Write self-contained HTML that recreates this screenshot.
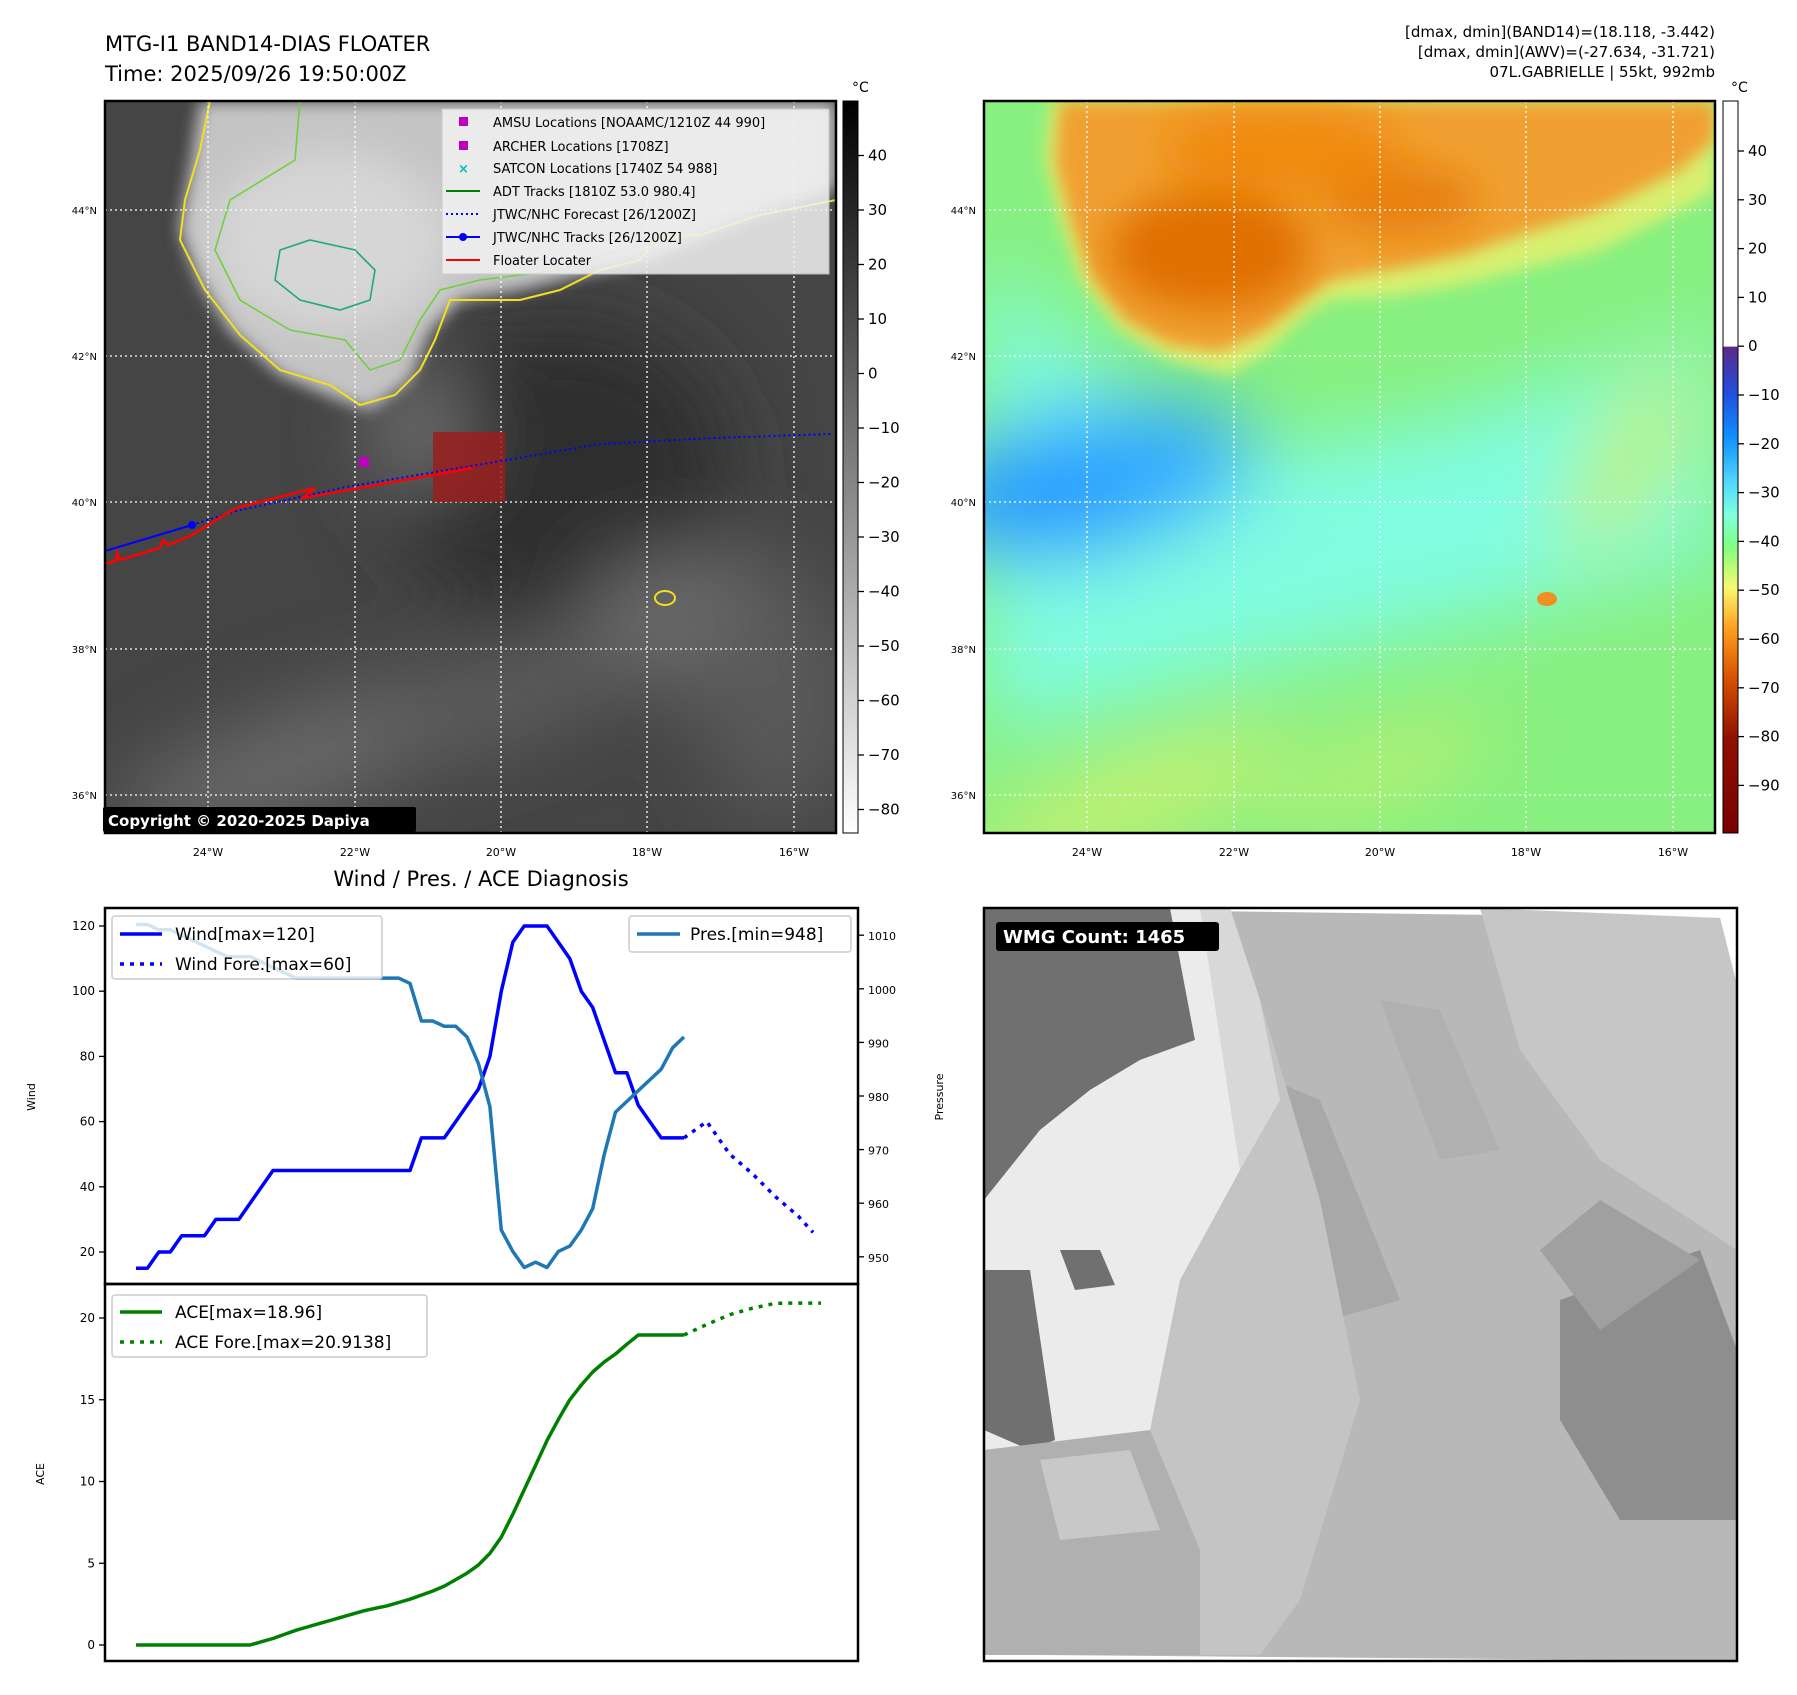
<!DOCTYPE html>
<html><head><meta charset="utf-8">
<style>
html,body{margin:0;padding:0;background:#fff;}
svg text{font-family:"DejaVu Sans","Liberation Sans",sans-serif;}
</style></head>
<body>
<svg id="fig" xmlns="http://www.w3.org/2000/svg" width="1797" height="1690" viewBox="0 0 1797 1690">
<defs>
  <filter id="blur8" x="-20%" y="-20%" width="140%" height="140%"><feGaussianBlur stdDeviation="8"/></filter>
  <filter id="blur20" x="-30%" y="-30%" width="160%" height="160%"><feGaussianBlur stdDeviation="20"/></filter>
  <filter id="blur40" x="-50%" y="-50%" width="200%" height="200%"><feGaussianBlur stdDeviation="40"/></filter>
  <clipPath id="clipL"><rect x="105" y="101" width="731" height="732"/></clipPath>
  <clipPath id="clipR"><rect x="984" y="101" width="731" height="732"/></clipPath>
  <clipPath id="clipB"><rect x="984" y="908" width="753" height="753"/></clipPath>
  <linearGradient id="cb1" x1="0" y1="0" x2="0" y2="1">
    <stop offset="0" stop-color="#000"/><stop offset="1" stop-color="#fff"/>
  </linearGradient>
  <linearGradient id="cb2" x1="0" y1="0" x2="0" y2="1">
    <stop offset="0" stop-color="#fff"/><stop offset="0.335" stop-color="#fff"/>
    <stop offset="0.336" stop-color="#5a2a8a"/><stop offset="0.40" stop-color="#2050e0"/>
    <stop offset="0.46" stop-color="#1090ff"/><stop offset="0.52" stop-color="#50d8ff"/>
    <stop offset="0.565" stop-color="#80ffe0"/><stop offset="0.61" stop-color="#80ff80"/>
    <stop offset="0.665" stop-color="#f8f870"/><stop offset="0.72" stop-color="#ffa020"/>
    <stop offset="0.79" stop-color="#d85000"/><stop offset="0.87" stop-color="#901000"/>
    <stop offset="1" stop-color="#7a0000"/>
  </linearGradient>
</defs>

<text x="105" y="51" font-size="21">MTG-I1 BAND14-DIAS FLOATER</text>
<text x="105" y="81" font-size="21">Time: 2025/09/26 19:50:00Z</text>
<g font-size="15" text-anchor="end">
  <text x="1715" y="37">[dmax, dmin](BAND14)=(18.118, -3.442)</text>
  <text x="1715" y="57">[dmax, dmin](AWV)=(-27.634, -31.721)</text>
  <text x="1715" y="77">07L.GABRIELLE | 55kt, 992mb</text>
</g>

<!-- LEFT MAP -->
<g clip-path="url(#clipL)">
  <rect x="105" y="101" width="731" height="732" fill="#454545"/>
  <g filter="url(#blur40)">
    <ellipse cx="560" cy="470" rx="170" ry="150" fill="#2e2e2e"/>
    <ellipse cx="700" cy="620" rx="120" ry="70" fill="#6a6a6a"/>
    <ellipse cx="300" cy="760" rx="200" ry="50" fill="#6a6a6a" transform="rotate(-20 300 760)"/>
    <ellipse cx="500" cy="700" rx="140" ry="40" fill="#606060" transform="rotate(-20 500 700)"/>
    <ellipse cx="780" cy="700" rx="80" ry="120" fill="#5a5a5a"/>
    <ellipse cx="420" cy="430" rx="50" ry="60" fill="#707070"/>
  </g>
  <path filter="url(#blur8)" d="M200,101 L190,170 L180,230 L200,280 L230,330 L280,375 L340,400 L370,410 L410,380 L430,330 L460,300 L520,290 L600,270 L650,260 L700,240 L760,215 L836,190 L836,101 Z" fill="#c4c4c4"/>
  <ellipse cx="330" cy="240" rx="120" ry="90" fill="#d6d6d6" filter="url(#blur20)"/>
  <path d="M210,101 L200,150 L185,200 L180,240 L205,290 L240,335 L280,370 L330,385 L360,405 L395,395 L420,370 L435,340 L450,300 L480,300 L520,300 L560,290 L600,270 L640,260 L660,235 L700,235 L760,215 L836,200" fill="none" stroke="#f0e020" stroke-width="2"/>
  <path d="M300,101 L295,160 L230,200 L215,250 L240,300 L290,330 L345,340 L370,370 L400,360 L420,320 L440,290 L480,280 L560,270 L620,250" fill="none" stroke="#70d040" stroke-width="1.6"/>
  <path d="M280,250 L310,240 L355,250 L375,270 L370,300 L340,310 L300,300 L275,280 Z" fill="none" stroke="#20a880" stroke-width="1.6"/>
  <ellipse cx="665" cy="598" rx="10" ry="7" fill="none" stroke="#f0e020" stroke-width="2"/>
  <g stroke="#fff" stroke-width="1.3" stroke-dasharray="2,3">
    <line x1="208" y1="101" x2="208" y2="833"/><line x1="355" y1="101" x2="355" y2="833"/>
    <line x1="501" y1="101" x2="501" y2="833"/><line x1="647" y1="101" x2="647" y2="833"/>
    <line x1="794" y1="101" x2="794" y2="833"/>
    <line x1="105" y1="210" x2="836" y2="210"/><line x1="105" y1="356" x2="836" y2="356"/>
    <line x1="105" y1="502" x2="836" y2="502"/><line x1="105" y1="649" x2="836" y2="649"/>
    <line x1="105" y1="795" x2="836" y2="795"/>
  </g>
  <rect x="433" y="432" width="72" height="70" fill="#9a1f1f" opacity="0.85"/>
  <polyline points="192,525 236,511 346,487 507,460 600,444 714,438 832,434" fill="none" stroke="#0000ff" stroke-width="2" stroke-dasharray="2,3"/>
  <polyline points="105,551 192,525" fill="none" stroke="#0000ff" stroke-width="2"/>
  <circle cx="192" cy="525" r="4" fill="#0000ff"/>
  <polyline points="105,564 116,561 117,553 120,560 160,548 163,540 168,545 190,536 236,508 315,488 303,498 472,468" fill="none" stroke="#ff0000" stroke-width="2.5"/>
  <rect x="359" y="457" width="10" height="10" fill="#c000c0"/>
</g>
<rect x="105" y="101" width="731" height="732" fill="none" stroke="#000" stroke-width="2.5"/>

<g font-size="13">
  <rect x="442" y="109" width="387" height="165" fill="#f2f2f2" opacity="0.85" stroke="#ccc"/>
  <rect x="459" y="117" width="9" height="9" fill="#c000c0"/>
  <text x="493" y="127">AMSU Locations [NOAAMC/1210Z 44 990]</text>
  <rect x="459" y="141" width="9" height="9" fill="#c000c0"/>
  <text x="493" y="151">ARCHER Locations [1708Z]</text>
  <text x="458" y="173" fill="#00c0c0" font-weight="bold" font-size="13">×</text>
  <text x="493" y="173">SATCON Locations [1740Z 54 988]</text>
  <line x1="446" y1="191" x2="480" y2="191" stroke="#008000" stroke-width="2"/>
  <text x="493" y="196">ADT Tracks [1810Z 53.0 980.4]</text>
  <line x1="446" y1="214" x2="480" y2="214" stroke="#0000ff" stroke-width="2" stroke-dasharray="2,3"/>
  <text x="493" y="219">JTWC/NHC Forecast [26/1200Z]</text>
  <line x1="446" y1="237" x2="480" y2="237" stroke="#0000ff" stroke-width="2"/><circle cx="463" cy="237" r="4" fill="#0000ff"/>
  <text x="493" y="242">JTWC/NHC Tracks [26/1200Z]</text>
  <line x1="446" y1="260" x2="480" y2="260" stroke="#ff0000" stroke-width="2"/>
  <text x="493" y="265">Floater Locater</text>
</g>
<g>
  <rect x="103" y="807" width="313" height="25" fill="#000" rx="2"/>
  <text x="108" y="826" fill="#fff" font-weight="bold" font-size="15">Copyright © 2020-2025 Dapiya</text>
</g>
<g font-size="10" text-anchor="end">
  <text x="97" y="214">44°N</text><text x="97" y="360">42°N</text><text x="97" y="506">40°N</text><text x="97" y="653">38°N</text><text x="97" y="799">36°N</text>
</g>
<g font-size="11" text-anchor="middle">
  <text x="208" y="856">24°W</text><text x="355" y="856">22°W</text><text x="501" y="856">20°W</text><text x="647" y="856">18°W</text><text x="794" y="856">16°W</text>
</g>
<g>
  <rect x="843" y="101" width="15" height="732" fill="url(#cb1)" stroke="#000" stroke-width="1"/>
  <text x="852" y="92" font-size="14">°C</text>
  <g font-size="15" id="cb1labels"></g>
</g>

<!-- RIGHT MAP -->
<g clip-path="url(#clipR)">
  <rect x="984" y="101" width="731" height="732" fill="#88f080"/>
  <g filter="url(#blur40)">
    <path d="M984,250 L1060,330 L1160,410 L1280,450 L1450,420 L1715,330 L1715,560 L1560,600 L1380,640 L1200,680 L1050,720 L984,730 Z" fill="#80fce0"/>
    <ellipse cx="1090" cy="480" rx="170" ry="75" fill="#30aaff" transform="rotate(-12 1090 480)"/>
    <ellipse cx="1040" cy="510" rx="90" ry="45" fill="#2098ff"/>
    <ellipse cx="1130" cy="800" rx="170" ry="35" fill="#d0f070" transform="rotate(-20 1130 800)"/>
    <ellipse cx="1380" cy="770" rx="120" ry="25" fill="#c8f070" transform="rotate(-20 1380 770)"/>
    <ellipse cx="1630" cy="460" rx="40" ry="110" fill="#c0f070" transform="rotate(30 1630 460)"/>
  </g>
  <path filter="url(#blur8)" d="M1050,101 L1045,160 L1060,220 L1080,280 L1120,330 L1170,360 L1230,375 L1270,350 L1300,320 L1330,300 L1400,295 L1460,285 L1520,270 L1600,250 L1680,210 L1715,190 L1715,101 Z" fill="#d8f070"/>
  <path filter="url(#blur8)" d="M1060,101 L1055,160 L1070,220 L1090,275 L1125,320 L1170,345 L1220,352 L1265,330 L1300,300 L1330,280 L1400,268 L1460,255 L1520,235 L1600,210 L1680,170 L1715,140 L1715,101 Z" fill="#f0a030"/>
  <g filter="url(#blur20)">
    <ellipse cx="1210" cy="250" rx="100" ry="60" fill="#e07000"/>
    <ellipse cx="1400" cy="200" rx="80" ry="35" fill="#e88010"/>
    <ellipse cx="1280" cy="150" rx="120" ry="40" fill="#f08a10"/>
  </g>
  <ellipse cx="1547" cy="599" rx="10" ry="7" fill="#f09020"/>
  <g stroke="#fff" stroke-width="1.3" stroke-dasharray="2,3">
    <line x1="1087" y1="101" x2="1087" y2="833"/><line x1="1234" y1="101" x2="1234" y2="833"/>
    <line x1="1380" y1="101" x2="1380" y2="833"/><line x1="1526" y1="101" x2="1526" y2="833"/>
    <line x1="1673" y1="101" x2="1673" y2="833"/>
    <line x1="984" y1="210" x2="1715" y2="210"/><line x1="984" y1="356" x2="1715" y2="356"/>
    <line x1="984" y1="502" x2="1715" y2="502"/><line x1="984" y1="649" x2="1715" y2="649"/>
    <line x1="984" y1="795" x2="1715" y2="795"/>
  </g>
</g>
<rect x="984" y="101" width="731" height="732" fill="none" stroke="#000" stroke-width="2.5"/>
<g font-size="10" text-anchor="end">
  <text x="976" y="214">44°N</text><text x="976" y="360">42°N</text><text x="976" y="506">40°N</text><text x="976" y="653">38°N</text><text x="976" y="799">36°N</text>
</g>
<g font-size="11" text-anchor="middle">
  <text x="1087" y="856">24°W</text><text x="1234" y="856">22°W</text><text x="1380" y="856">20°W</text><text x="1526" y="856">18°W</text><text x="1673" y="856">16°W</text>
</g>
<g>
  <rect x="1723" y="101" width="15" height="732" fill="url(#cb2)" stroke="#000" stroke-width="1"/>
  <text x="1731" y="92" font-size="14">°C</text>
  <g font-size="15" id="cb2labels"></g>
</g>

<!-- BOTTOM RIGHT -->
<g clip-path="url(#clipB)">
  <rect x="984" y="908" width="753" height="753" fill="#fff"/>
  <polygon points="984,908 1720,918 1737,985 1737,1661 1040,1655 984,1655" fill="#b8b8b8"/>
  <polygon points="1480,908 1720,918 1737,985 1737,1250 1600,1160 1520,1050" fill="#c6c6c6"/>
  <polygon points="1560,1300 1700,1250 1737,1350 1737,1520 1620,1520 1560,1420" fill="#8e8e8e"/>
  <polygon points="1540,1250 1600,1200 1700,1260 1600,1330" fill="#a0a0a0"/>
  <polygon points="1200,1050 1320,1100 1400,1300 1330,1320 1260,1200" fill="#a8a8a8"/>
  <polygon points="1380,1000 1440,1010 1500,1150 1440,1160" fill="#b0b0b0"/>
  <polygon points="1180,908 1230,908 1260,1000 1320,1200 1360,1400 1300,1600 1260,1655 1150,1655 1120,1500" fill="#c4c4c4"/>
  <polygon points="984,908 1170,908 1195,1040 1140,1060 1090,1090 1040,1130 984,1200" fill="#707070"/>
  <polygon points="1170,908 1200,908 1260,1100 1240,1170 1180,1280 1150,1430 1060,1460 984,1450 984,1200 1040,1130 1090,1090 1140,1060 1195,1040" fill="#ebebeb"/>
  <polygon points="1200,908 1230,908 1260,1000 1280,1100 1240,1170" fill="#d8d8d8"/>
  <polygon points="984,1270 1030,1270 1055,1440 1030,1450 984,1430" fill="#707070"/>
  <polygon points="1060,1250 1100,1250 1115,1285 1075,1290" fill="#707070"/>
  <polygon points="984,1450 1150,1430 1200,1550 1200,1655 984,1655" fill="#b0b0b0"/>
  <polygon points="1040,1460 1130,1450 1160,1530 1060,1540" fill="#c8c8c8"/>
</g>
<rect x="984" y="908" width="753" height="753" fill="none" stroke="#000" stroke-width="2.5"/>
<g>
  <rect x="996" y="922" width="223" height="29" rx="3" fill="#000"/>
  <text x="1003" y="943" fill="#fff" font-weight="bold" font-size="18">WMG Count: 1465</text>
</g>

<!-- BOTTOM LEFT CHART -->
<text x="481" y="886" font-size="21" text-anchor="middle">Wind / Pres. / ACE Diagnosis</text>
<g id="chart"></g>
<rect x="105" y="908" width="753" height="376" fill="none" stroke="#000" stroke-width="2.5"/>
<rect x="105" y="1284" width="753" height="377" fill="none" stroke="#000" stroke-width="2.5"/>
<text x="35" y="1097" font-size="11" text-anchor="middle" transform="rotate(-90 35 1097)">Wind</text>
<text x="943" y="1097" font-size="11" text-anchor="middle" transform="rotate(-90 943 1097)">Pressure</text>
<text x="44" y="1474" font-size="11" text-anchor="middle" transform="rotate(-90 44 1474)">ACE</text>

<g font-size="17">
  <rect x="112" y="916" width="270" height="63" rx="3" fill="#fff" fill-opacity="0.8" stroke="#ccc" stroke-width="1.5"/>
  <line x1="120" y1="934" x2="162" y2="934" stroke="#0000ff" stroke-width="3.5"/>
  <text x="175" y="940">Wind[max=120]</text>
  <line x1="120" y1="964" x2="162" y2="964" stroke="#0000ff" stroke-width="3.5" stroke-dasharray="4,6"/>
  <text x="175" y="970">Wind Fore.[max=60]</text>
</g>
<g font-size="17">
  <rect x="629" y="916" width="222" height="36" rx="3" fill="#fff" fill-opacity="0.8" stroke="#ccc" stroke-width="1.5"/>
  <line x1="637" y1="934" x2="680" y2="934" stroke="#1f77b4" stroke-width="3.5"/>
  <text x="690" y="940">Pres.[min=948]</text>
</g>
<g font-size="17">
  <rect x="112" y="1295" width="315" height="62" rx="3" fill="#fff" fill-opacity="0.8" stroke="#ccc" stroke-width="1.5"/>
  <line x1="120" y1="1312" x2="162" y2="1312" stroke="#008000" stroke-width="3.5"/>
  <text x="175" y="1318">ACE[max=18.96]</text>
  <line x1="120" y1="1342" x2="162" y2="1342" stroke="#008000" stroke-width="3.5" stroke-dasharray="4,6"/>
  <text x="175" y="1348">ACE Fore.[max=20.9138]</text>
</g>
</svg>

<script>
const windValues = [15,15,20,20,25,25,25,30,30,30,35,40,45,45,45,45,45,45,45,45,45,45,45,45,45,55,55,55,60,65,70,80,100,115,120,120,120,115,110,100,95,85,75,75,65,60,55,55,55];
const presValues = [1012,1012,1011,1011,1010,1009,1008,1007,1006,1006,1006,1005,1004,1003,1002,1002,1002,1002,1002,1002,1002,1002,1002,1002,1001,994,994,993,993,991,986,978,955,951,948,949,948,951,952,955,959,969,977,979,981,983,985,989,991];
const aceValues = [0,0,0,0,0,0,0,0,0,0,0,0.2,0.4,0.65,0.9,1.1,1.3,1.5,1.7,1.9,2.1,2.25,2.4,2.6,2.8,3.05,3.3,3.6,4.0,4.4,4.9,5.6,6.6,8.0,9.5,11.0,12.5,13.8,15.0,15.9,16.7,17.3,17.8,18.4,18.96,18.96,18.96,18.96,18.96];
const windForeSteps = [48,50,52,54,56,58,59.3];
const windForeValues = [55,60,50,44,37,31,26];
const aceForeSteps = [48,50,52,54,56,58,60];
const aceForeValues = [18.96,19.6,20.2,20.6,20.9,20.91,20.91];
const windTicks = [20,40,60,80,100,120];
const presTicks = [950,960,970,980,990,1000,1010];
const aceTicks = [0,5,10,15,20];
const cb1Ticks = [40,30,20,10,0,-10,-20,-30,-40,-50,-60,-70,-80];
const cb2Ticks = [40,30,20,10,0,-10,-20,-30,-40,-50,-60,-70,-80,-90];

const NS='http://www.w3.org/2000/svg';
function xS(i){return 136 + i*(684-136)/48;}
function yWind(v){return 1252 - (v-20)*3.26;}
function yPres(v){return 1256.8 - (v-950)*5.36;}
function yAce(v){return 1645 - v*16.35;}
function yCb1(v){return 155.5 + (40-v)*5.45;}
function yCb2(v){return 151 + (40-v)*4.88;}
function mk(tag,attrs,parent){const e=document.createElementNS(NS,tag);for(const k in attrs)e.setAttribute(k,attrs[k]);parent.appendChild(e);return e;}
const chart=document.getElementById('chart');

function line(steps,vals,yf,color,dash,name){
  const pts=vals.map((v,i)=>xS(steps?steps[i]:i).toFixed(1)+','+yf(v).toFixed(1)).join(' ');
  const p=mk('polyline',{points:pts,fill:'none',stroke:color,'stroke-width':3.5,'stroke-linejoin':'round'},chart);
  if(dash)p.setAttribute('stroke-dasharray',dash);
  
  
}
line(null,windValues,yWind,'#0000ff',null,'wind-line');
line(windForeSteps,windForeValues,yWind,'#0000ff','4,6','wind-forecast-line');
line(null,presValues,yPres,'#1f77b4',null,'pressure-line');
line(null,aceValues,yAce,'#008000',null,'ace-line');
line(aceForeSteps,aceForeValues,yAce,'#008000','4,6','ace-forecast-line');

function ticks(vals,yf,side,parent,fs,x0){
  vals.forEach(v=>{
    const y=yf(v);
    if(side==='left'){
      mk('line',{x1:x0-6,y1:y,x2:x0,y2:y,stroke:'#000','stroke-width':1.3},parent);
      const t=mk('text',{x:x0-10,y:y+4,'font-size':fs,'text-anchor':'end'},parent);t.textContent=v;
      
      
    } else {
      mk('line',{x1:x0,y1:y,x2:x0+6,y2:y,stroke:'#000','stroke-width':1.3},parent);
      const t=mk('text',{x:x0+10,y:y+5,'font-size':fs},parent);t.textContent=String(v).replace('-','\u2212');
      
      
    }
  });
}
ticks(windTicks,yWind,'left',chart,12,105);
ticks(aceTicks,yAce,'left',chart,12,105);
ticks(presTicks,yPres,'right',chart,11,858);
ticks(cb1Ticks,yCb1,'right',document.getElementById('cb1labels'),15,858);
ticks(cb2Ticks,yCb2,'right',document.getElementById('cb2labels'),15,1738);
</script>
</body></html>
